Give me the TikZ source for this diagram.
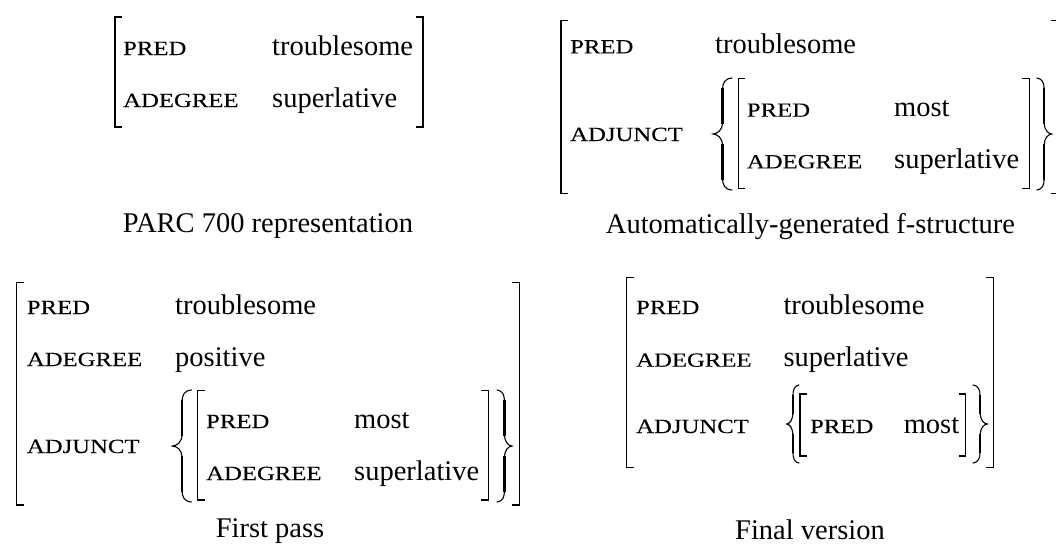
\documentclass[tikz,border=0pt]{standalone}
\usepackage{fontspec}
\setmainfont{Liberation Serif}
% attribute names are set as wide capitals, standing in for small caps
\newfontfamily\attrfont[FakeStretch=1.23,FakeBold=0.12]{Liberation Serif}

\tikzset{
  brk/.style={line width=1.5pt},
  brc/.style={line width=1.1pt, line cap=round},
  brcstem/.style={line width=2.2pt, line cap=butt},
  attr/.style={anchor=base west, inner sep=0pt, font=\attrfont\fontsize{20.1}{24}\selectfont},
  val/.style={anchor=base west, inner sep=0pt, font=\fontsize{28.5}{34}\selectfont},
  caption/.style={anchor=base, inner sep=0pt, font=\fontsize{28.5}{34}\selectfont},
}

% square brackets of an attribute-value matrix: left x, right x, top y, bottom y
\newcommand\fsBrackets[4]{%
  \draw[brk] ({#1+7},#3) -- (#1,#3) -- (#1,#4) -- ({#1+7},#4);
  \draw[brk] ({#2-7},#3) -- (#2,#3) -- (#2,#4) -- ({#2-7},#4);}

% curly set brace: tip x, hook x, top y, bottom y
\newcommand\fsBrace[4]{%
  \pgfmathsetmacro\bd{#2-#1}%
  \pgfmathsetmacro\bxc{#1+0.5*\bd}%
  \pgfmathsetmacro\bxa{#1+0.62*\bd}%
  \pgfmathsetmacro\bxb{#1+0.22*\bd}%
  \pgfmathsetmacro\bym{(#3+#4)/2}%
  \draw[brc] (#2,#3) .. controls (\bxa,{#3+0.5}) and (\bxc,{#3+5}) .. (\bxc,{#3+12})
    -- (\bxc,{\bym-12}) .. controls (\bxc,{\bym-3}) and (\bxb,{\bym-0.5}) .. (#1,\bym)
    .. controls (\bxb,{\bym+0.5}) and (\bxc,{\bym+3}) .. (\bxc,{\bym+12})
    -- (\bxc,{#4-12}) .. controls (\bxc,{#4-5}) and (\bxa,{#4-0.5}) .. (#2,#4);
  % heavier stems
  \draw[brcstem] (\bxc,{#3+10}) -- (\bxc,{\bym-10});
  \draw[brcstem] (\bxc,{\bym+10}) -- (\bxc,{#4-10});}

\begin{document}
\begin{tikzpicture}[x=1pt,y=-1pt]
\useasboundingbox (0,0) rectangle (1056,547);

% ---- PARC 700 representation
\fsBrackets{115}{423}{17}{127}
\node[attr] (a1pred) at (123,55) {PRED};
\node[val]  (a1predv) at (272,55) {troublesome};
\node[attr] (a1deg) at (123,107) {ADEGREE};
\node[val]  (a1degv) at (272,107) {superlative};
\node[caption] (a1cap) at (268,232) {PARC 700 representation};

% ---- Automatically-generated f-structure
\fsBrackets{561}{1058}{20.7}{193.3}
\node[attr] (b1pred) at (570,53.3) {PRED};
\node[val]  (b1predv) at (715,53.3) {troublesome};
\node[attr] (b1adj) at (570,141) {ADJUNCT};
\fsBrace{713}{732}{78}{190}
\fsBrackets{738.3}{1029.3}{78.3}{188.3}
\node[attr] (b2pred) at (746.7,116.7) {PRED};
\node[val]  (b2predv) at (894,116.7) {most};
\node[attr] (b2deg) at (746.7,168.3) {ADEGREE};
\node[val]  (b2degv) at (894,168.3) {superlative};
\fsBrace{1051.7}{1036.7}{78}{190}
\node[caption] (b1cap) at (810.5,233.3) {Automatically-generated f-structure};

% ---- First pass
\fsBrackets{16.7}{519.3}{282.7}{505}
\node[attr] (c1pred) at (26.7,314) {PRED};
\node[val]  (c1predv) at (175,314) {troublesome};
\node[attr] (c1deg) at (26.7,366) {ADEGREE};
\node[val]  (c1degv) at (175,366) {positive};
\node[attr] (c1adj) at (26.7,453) {ADJUNCT};
\fsBrace{172.5}{191.5}{390}{502}
\fsBrackets{197.5}{488.3}{390.7}{500}
\node[attr] (c2pred) at (206,428) {PRED};
\node[val]  (c2predv) at (354,428) {most};
\node[attr] (c2deg) at (206,480) {ADEGREE};
\node[val]  (c2degv) at (354,480) {superlative};
\fsBrace{512}{497}{390}{502}
\node[caption] (c1cap) at (270,537) {First pass};

% ---- Final version
\fsBrackets{626.7}{993.3}{277.3}{467.3}
\node[attr] (d1pred) at (636,314) {PRED};
\node[val]  (d1predv) at (783.3,314) {troublesome};
\node[attr] (d1deg) at (636,366.7) {ADEGREE};
\node[val]  (d1degv) at (783.3,366.7) {superlative};
\node[attr] (d1adj) at (636,433) {ADJUNCT};
\fsBrace{786.7}{799}{385}{463}
\fsBrackets{800}{965.7}{394}{456}
\node[attr] (d2pred) at (810,433) {PRED};
\node[val]  (d2predv) at (903.6,433) {most};
\fsBrace{987.3}{973}{385}{463}
\node[caption] (d1cap) at (810,539) {Final version};
\end{tikzpicture}
\end{document}
